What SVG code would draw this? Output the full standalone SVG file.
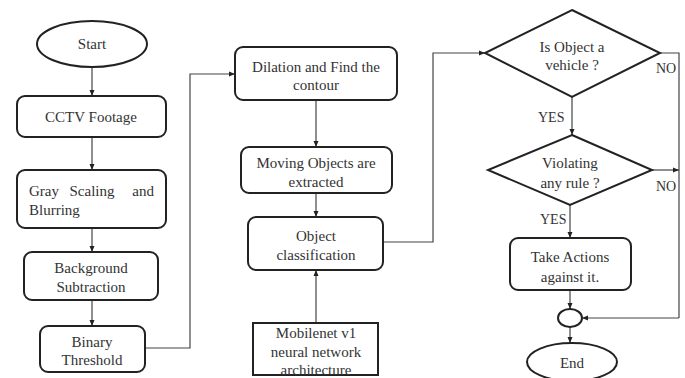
<svg xmlns="http://www.w3.org/2000/svg" width="685" height="378" viewBox="0 0 685 378">
<style>
.box{fill:#fff;stroke:#222;stroke-width:2}
.t{font-family:"Liberation Serif","Times New Roman",serif;font-size:15px;fill:#333;text-anchor:middle}
.l{font-family:"Liberation Serif","Times New Roman",serif;font-size:14px;fill:#333}
.c{fill:none;stroke:#444;stroke-width:1.2}
.ca{fill:none;stroke:#444;stroke-width:1.2;marker-end:url(#ah)}
</style>
<defs>
<marker id="ah" viewBox="0 0 6 6" refX="6" refY="3" markerWidth="6" markerHeight="6" orient="auto" markerUnits="userSpaceOnUse">
<path d="M0,0.5 L6,3 L0,5.5 Z" fill="#222"/>
</marker>
</defs>
<rect width="685" height="378" fill="#fff"/>
<g id="connectors">
<path class="ca" d="M92,68 V96"/>
<path class="ca" d="M92,137 V170"/>
<path class="ca" d="M92,228 V252"/>
<path class="ca" d="M92,300 V326"/>
<path class="ca" d="M145,348 H190 V74 H235"/>
<path class="ca" d="M316,100 V147"/>
<path class="ca" d="M316,193 V217"/>
<path class="ca" d="M316,323 V270"/>
<path class="ca" d="M383,242 H433 V53 H485"/>
<path class="c" d="M660,53 H679 V318"/>
<path class="ca" d="M679,318 H582"/>
<path class="ca" d="M572,97 V135"/>
<path class="ca" d="M652,170 H679"/>
<path class="ca" d="M570,205 V238"/>
<path class="ca" d="M570,290 V309"/>
<path class="ca" d="M570,327 V343"/>
<text class="l" x="656" y="73">NO</text>
<text class="l" x="656" y="191">NO</text>
<text class="l" x="538" y="122">YES</text>
<text class="l" x="540" y="224">YES</text>
</g>
<g id="start">
<ellipse class="box" cx="92" cy="44" rx="55" ry="23"/>
<text class="t" x="92" y="49">Start</text>
</g>
<g id="cctv">
<rect class="box" x="17" y="96" width="149" height="41" rx="8"/>
<text class="t" x="91" y="122">CCTV Footage</text>
</g>
<g id="gray">
<rect class="box" x="17" y="170" width="149" height="58" rx="8"/>
<text class="t" x="29" y="196" style="text-anchor:start">Gray</text>
<text class="t" x="92" y="196">Scaling</text>
<text class="t" x="154" y="196" style="text-anchor:end">and</text>
<text class="t" x="29" y="215" style="text-anchor:start">Blurring</text>
</g>
<g id="background">
<rect class="box" x="24" y="252" width="134" height="48" rx="8"/>
<text class="t" x="91" y="273">Background</text>
<text class="t" x="91" y="292">Subtraction</text>
</g>
<g id="binary">
<rect class="box" x="40" y="326" width="105" height="46" rx="8"/>
<text class="t" x="92" y="347">Binary</text>
<text class="t" x="92" y="365">Threshold</text>
</g>
<g id="dilation">
<rect class="box" x="235" y="47" width="162" height="53" rx="8"/>
<text class="t" x="316" y="72">Dilation and Find the</text>
<text class="t" x="316" y="90">contour</text>
</g>
<g id="moving">
<rect class="box" x="241" y="147" width="151" height="46" rx="8"/>
<text class="t" x="316" y="168">Moving Objects are</text>
<text class="t" x="316" y="187">extracted</text>
</g>
<g id="classification">
<rect class="box" x="248" y="217" width="135" height="53" rx="8"/>
<text class="t" x="316" y="241">Object</text>
<text class="t" x="316" y="260">classification</text>
</g>
<g id="mobilenet">
<rect class="box" x="253" y="323" width="125" height="52"/>
<text class="t" x="316" y="338">Mobilenet v1</text>
<text class="t" x="316" y="357">neural network</text>
<text class="t" x="316" y="375">architecture</text>
</g>
<g id="isvehicle">
<polygon class="box" points="572,10 660,53 572,97 485,53"/>
<text class="t" x="572" y="52">Is Object a</text>
<text class="t" x="572" y="70">vehicle ?</text>
</g>
<g id="violating">
<polygon class="box" points="572,135 652,170 570,205 488,170"/>
<text class="t" x="570" y="168">Violating</text>
<text class="t" x="570" y="188">any rule ?</text>
</g>
<g id="action">
<rect class="box" x="510" y="238" width="121" height="52" rx="8"/>
<text class="t" x="570" y="262">Take Actions</text>
<text class="t" x="570" y="282">against it.</text>
</g>
<g id="merge">
<ellipse class="box" cx="570" cy="318" rx="12" ry="9"/>
</g>
<g id="end">
<ellipse class="box" cx="572" cy="362" rx="45" ry="19"/>
<text class="t" x="572" y="368">End</text>
</g>
</svg>
